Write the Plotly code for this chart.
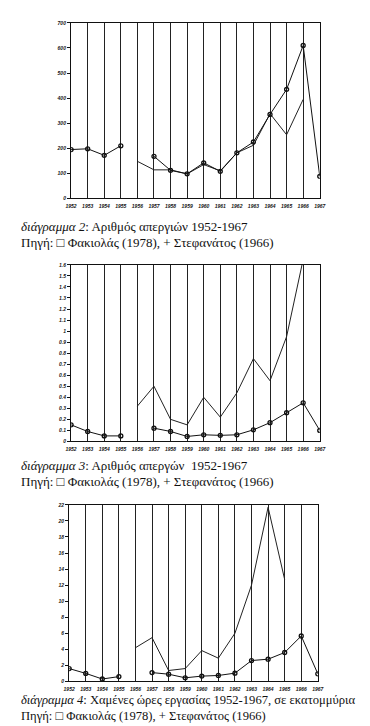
import plotly.graph_objects as go

years = list(range(1952, 1968))
year_labels = [str(y) for y in years]

# Chart 1: number of strikes
strikes_fakiolas = [195, 198, 172, 210, None, 168, 112, 98, 142, 108, 182, 225, 335, 435, 610, 88]
strikes_stefanatos = [None, None, None, None, 148, 114, 114, 98, 135, 110, 182, 212, 338, 254, 395, None]
y1_ticks = [0, 100, 200, 300, 400, 500, 600, 700]
y1_labels = ["0", "100", "200", "300", "400", "500", "600", "700"]

# Chart 2: number of strikers
strikers_fakiolas = [0.15, 0.09, 0.05, 0.05, None, 0.12, 0.09, 0.045, 0.06, 0.055, 0.06, 0.105, 0.17, 0.26, 0.35, 0.10]
strikers_stefanatos = [None, None, None, None, 0.32, 0.50, 0.20, 0.15, 0.40, 0.22, 0.44, 0.75, 0.55, 0.95, 1.65, None]
y2_ticks = [0, 0.1, 0.2, 0.3, 0.4, 0.5, 0.6, 0.7, 0.8, 0.9, 1.0, 1.1, 1.2, 1.3, 1.4, 1.5, 1.6]
y2_labels = ["0", "0.1", "0.2", "0.3", "0.4", "0.5", "0.6", "0.7", "0.8", "0.9", "1",
             "1.1", "1.2", "1.3", "1.4", "1.5", "1.6"]

# Chart 3: lost working hours (millions)
hours_fakiolas = [1.6, 1.0, 0.3, 0.6, None, 1.1, 0.9, 0.45, 0.66, 0.74, 1.03, 2.6, 2.77, 3.6, 5.66, 0.95]
hours_stefanatos = [None, None, None, None, 4.2, 5.45, 1.36, 1.6, 3.84, 2.9, 6.0, 12.0, 21.7, 12.7, None, None]
y3_ticks = [0, 2, 4, 6, 8, 10, 12, 14, 16, 18, 20, 22]
y3_labels = ["0", "2", "4", "6", "8", "10", "12", "14", "16", "18", "20", "22"]

captions = [
    ("<i>διάγραμμα 2</i>: Αριθμός απεργιών 1952-1967", "Πηγή: □ Φακιολάς (1978), + Στεφανάτος (1966)"),
    ("<i>διάγραμμα 3</i>: Αριθμός απεργών  1952-1967", "Πηγή: □ Φακιολάς (1978), + Στεφανάτος (1966)"),
    ("<i>διάγραμμα 4</i>: Χαμένες ώρες εργασίας 1952-1967, σε εκατομμύρια", "Πηγή: □ Φακιολάς (1978), + Στεφανάτος (1966)"),
]

W, H = 370, 726

def py(px):
    return 1 - px / H

panels = [
    dict(a=strikes_fakiolas, b=strikes_stefanatos, yt=y1_ticks, yl=y1_labels, rng=[0, 700],
         x0=59, x1=316, top=12, bot=189, cap=(217, 233), capsize=13),
    dict(a=strikers_fakiolas, b=strikers_stefanatos, yt=y2_ticks, yl=y2_labels, rng=[0, 1.6],
         x0=59, x1=316, top=256, bot=434, cap=(458, 474), capsize=13),
    dict(a=hours_fakiolas, b=hours_stefanatos, yt=y3_ticks, yl=y3_labels, rng=[0, 22],
         x0=57, x1=314, top=498, bot=676, cap=(695, 711), capsize=12.6),
]

fig = go.Figure()
layout = {}
annotations = []
tickfont = dict(family="Liberation Sans", size=5, color="#111", style="italic", weight="bold")

for i, p in enumerate(panels):
    n = "" if i == 0 else str(i + 1)
    xa, ya = "x" + n, "y" + n
    fig.add_trace(go.Scatter(x=years, y=p["b"], xaxis=xa, yaxis=ya, mode="lines",
                             line=dict(color="#222", width=1), connectgaps=False,
                             showlegend=False))
    fig.add_trace(go.Scatter(x=years, y=p["a"], xaxis=xa, yaxis=ya, mode="lines+markers",
                             line=dict(color="#111", width=1),
                             marker=dict(symbol="circle-open", size=4, color="#111",
                                         line=dict(width=1.3, color="#111")),
                             connectgaps=False, showlegend=False))
    layout["xaxis" + n] = dict(
        domain=[p["x0"] / W, p["x1"] / W], anchor=ya, range=[1952, 1967],
        tickvals=years, ticktext=year_labels, tickfont=tickfont, tickangle=0,
        showgrid=True, gridcolor="#222", gridwidth=1.2, zeroline=False,
        showline=True, linecolor="#111", linewidth=1.3, mirror=True, ticks="", ticklabelstandoff=2,
        fixedrange=True)
    layout["yaxis" + n] = dict(
        domain=[py(p["bot"]), py(p["top"])], anchor=xa, range=p["rng"],
        tickvals=p["yt"], ticktext=p["yl"], tickfont=tickfont,
        showgrid=False, zeroline=False, showline=True, linecolor="#111", linewidth=1.3,
        mirror=True, ticks="outside", ticklen=3, tickwidth=1, tickcolor="#111", fixedrange=True)
    for text, yc in zip(captions[i], p["cap"]):
        annotations.append(dict(text=text, x=5 / W, y=py(yc), xref="paper", yref="paper",
                                xanchor="left", yanchor="middle", showarrow=False,
                                font=dict(family="Liberation Serif", size=p["capsize"], color="#111")))

fig.update_layout(width=W, height=H, margin=dict(l=0, r=0, t=0, b=0),
                  paper_bgcolor="white", plot_bgcolor="white",
                  annotations=annotations, **layout)
fig.write_html("out.html")
